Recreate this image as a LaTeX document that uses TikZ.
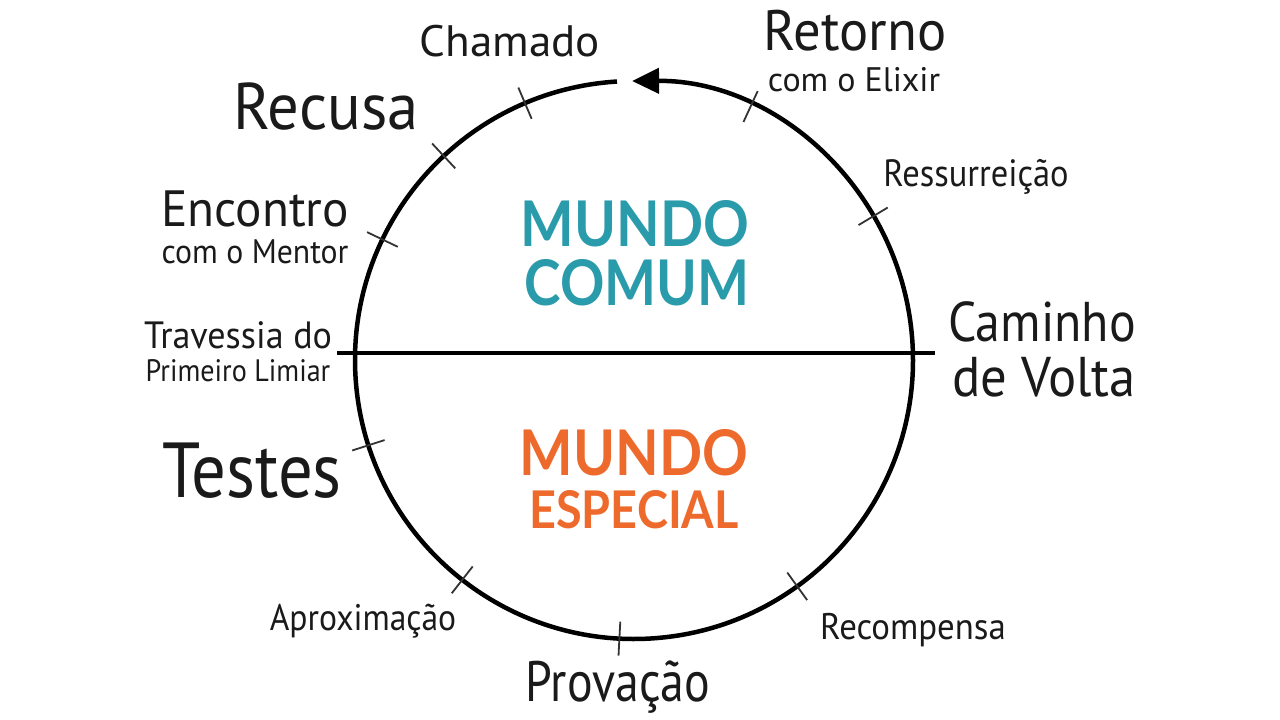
\documentclass[tikz,border=0pt]{standalone}
\usepackage{fontspec}
\usepackage{graphicx}
\setmainfont{PT Sans}[FakeStretch=0.84]
\newfontfamily\mundofont{Lato}[FakeStretch=0.9]
\usetikzlibrary{arrows.meta}
\definecolor{tealc}{HTML}{2A9BAA}
\definecolor{orngc}{HTML}{EE6A2C}
\definecolor{inkc}{HTML}{1A1A1A}
\newcommand{\fsz}[1]{\fontsize{#1}{#1}\selectfont}
\newcommand{\sx}[2]{\scalebox{#1}[1]{#2}}
\begin{document}
\begin{tikzpicture}[x=1pt,y=-1pt,
  lab/.style={inner sep=0pt, text=inkc},
  mundo/.style={inner sep=0pt},
  tickmark/.style={line width=1.8pt, black!80},
  ring/.style={line width=4.5pt, black}]
\useasboundingbox[fill=white] (0,0) rectangle (1280,720);
\coordinate (O) at (634,360);
\coordinate (L) at (337,353);
\coordinate (R) at (935,353);
% circle with arrow
\draw[ring, -{Triangle[length=27pt,width=25pt]}] (O) ++(-93.5:279) arc[start angle=-93.5, end angle=-450.4, radius=279];
% horizontal line
\draw[line width=4pt] (L) -- (R);
% ticks
\foreach \a in {113,133,154.4,197.8,232,267,305.8,31,65.3}
  \draw[tickmark] (O) ++(-\a:262) -- ++(-\a:34);
% labels
\node[lab, font=\fsz{44}] (chamado) at (510,41) {\sx{1.22}{Chamado}};
\node[lab, font=\fsz{57}] (retorno) at (855,31) {\sx{1.14}{Retorno}};
\node[lab, font=\fsz{34}] (elixir) at (854,80) {\sx{1.19}{com o Elixir}};
\node[lab, font=\fsz{66}] (recusa) at (326,107) {\sx{1.13}{Recusa}};
\node[lab, font=\fsz{51}] (encontro) at (255,209) {\sx{1.15}{Encontro}};
\node[lab, font=\fsz{34}] (mentor) at (255,252) {\sx{1.11}{com o Mentor}};
\node[lab, font=\fsz{38}] (travessia) at (238,335) {\sx{1.13}{Travessia do}};
\node[lab, font=\fsz{31}] (limiar) at (238,371) {\sx{1.08}{Primeiro Limiar}};
\node[lab, font=\fsz{78}] (testes) at (252,471) {\sx{1.05}{Testes}};
\node[lab, font=\fsz{37}] (aprox) at (363,621) {\sx{1.08}{Aproximação}};
\node[lab, font=\fsz{57}] (provacao) at (618,687) {Provação};
\node[lab, font=\fsz{37}] (recomp) at (913,630) {\sx{1.12}{Recompensa}};
\node[lab, font=\fsz{56}] (caminho) at (1042,322) {\sx{1.06}{Caminho}};
\node[lab, font=\fsz{56}] (volta) at (1044,377) {\sx{1.12}{de Volta}};
\node[lab, font=\fsz{38}] (ressur) at (976,177) {\sx{1.08}{Ressurreição}};
% worlds
\node[mundo, text=tealc, font=\mundofont\bfseries\fsz{63}] (mundo1) at (635,224) {MUNDO};
\node[mundo, text=tealc, font=\mundofont\bfseries\fsz{63}] (comum) at (637,283) {\sx{0.97}{COMUM}};
\node[mundo, text=orngc, font=\mundofont\bfseries\fsz{63}] (mundo2) at (634,453) {MUNDO};
\node[mundo, text=orngc, font=\mundofont\bfseries\fsz{52}] (especial) at (634,510) {ESPECIAL};
\end{tikzpicture}
\end{document}
